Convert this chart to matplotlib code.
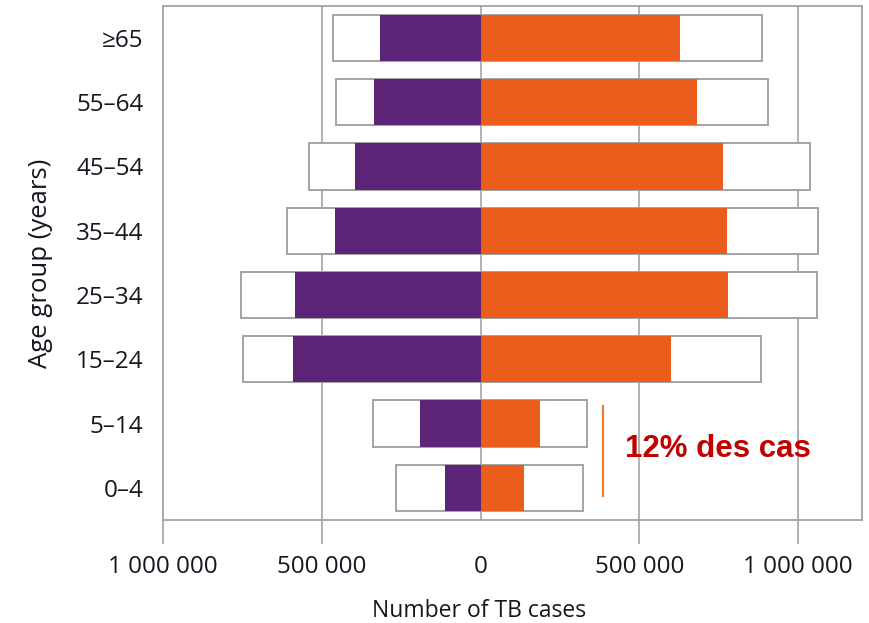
import matplotlib
matplotlib.use("Agg")
import matplotlib.pyplot as plt
import numpy as np

# ---- data ----
age_groups = ["0–4", "5–14", "15–24", "25–34", "35–44", "45–54", "55–64", "≥65"]
female_notified = [113000, 190000, 590000, 584000, 458000, 396000, 337000, 318000]
female_estimated = [267000, 338000, 749000, 755000, 610000, 539000, 454000, 466000]
male_notified = [138000, 186000, 600000, 779000, 777000, 765000, 682000, 627000]
male_estimated = [322000, 334000, 882000, 1060000, 1064000, 1038000, 906000, 888000]
x_ticks = [-1000000, -500000, 0, 500000, 1000000]
x_tick_labels = ["1 000 000", "500 000", "0", "500 000", "1 000 000"]
annotation_text = "12% des cas"
annotation_x = 387000
annotation_y_range = (-0.12, 1.28)
annotation_text_x = 455000
annotation_text_y = 0.6

PURPLE = "#5C2577"
ORANGE = "#EA5D1C"
GRAY = "#A3A3A3"
TEXT = "#16161F"

plt.rcParams['font.family'] = ['Open Sans', 'DejaVu Sans']

fig = plt.figure(figsize=(8.69, 6.23), dpi=100)
ax = fig.add_axes([0.1876, 0.1653, 0.8038, 0.8255])

y = np.arange(len(age_groups))
h = 0.72

for x in [-500000, 0, 500000, 1000000]:
    ax.axvline(x, color=GRAY, lw=1.2, zorder=0)

ax.barh(y, [-v for v in female_estimated], height=h, color="white",
        edgecolor=GRAY, linewidth=1.4, zorder=2)
ax.barh(y, male_estimated, height=h, color="white",
        edgecolor=GRAY, linewidth=1.4, zorder=2)
ax.barh(y, [-v for v in female_notified], height=h, color=PURPLE,
        edgecolor="none", zorder=3)
ax.barh(y, male_notified, height=h, color=ORANGE,
        edgecolor="none", zorder=3)

ax.plot([annotation_x, annotation_x], list(annotation_y_range),
        color="#F07A2A", lw=1.5, zorder=4)
ax.text(annotation_text_x, annotation_text_y, annotation_text,
        family=['Liberation Sans', 'DejaVu Sans'], fontweight='bold',
        fontsize=22.5, color="#C00000", va='center', ha='left', zorder=5)

ax.set_xlim(-1000000, 1200000)
ax.set_ylim(-0.5, 7.5)

ax.set_xticks(x_ticks)
ax.set_xticklabels(x_tick_labels)
ax.set_yticks(y)
ax.set_yticklabels(age_groups)

ax.tick_params(axis='x', length=17, width=1.2, color=GRAY, pad=8,
               labelsize=17.5, labelcolor=TEXT)
ax.tick_params(axis='y', length=0, pad=14, labelsize=17.5, labelcolor=TEXT)
ax.xaxis.get_major_ticks()[2].tick1line.set_visible(False)

for s in ax.spines.values():
    s.set_color(GRAY)
    s.set_linewidth(1.3)

ax.set_xlabel("Number of TB cases", fontsize=16.5, color=TEXT)
ax.xaxis.set_label_coords(0.452, -0.1887)
ax.xaxis.label.set_va('baseline')
ax.set_ylabel("Age group (years)", fontsize=18.5, color=TEXT, labelpad=16.5)

fig.savefig("out.png", dpi=100)
